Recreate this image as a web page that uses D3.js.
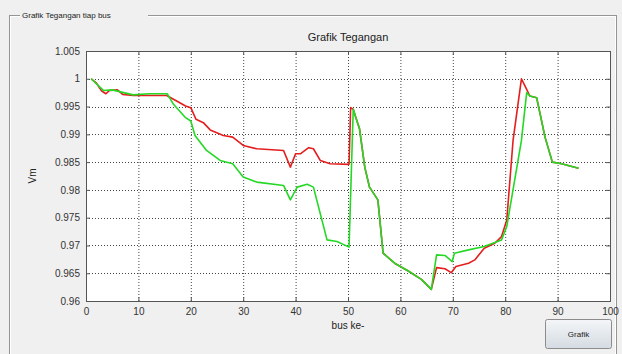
<!DOCTYPE html>
<html>
<head>
<style>
body { margin: 0; background: #f0f0f0; }
#chart { display: block; }
text { font-family: "Liberation Sans", Arial, sans-serif; fill: #222; }
</style>
</head>
<body>
<svg id="chart" width="622" height="354"></svg>
<script src="https://d3js.org/d3.v7.min.js"></script>
<script>
// values (bus number, Vm)
const redBus = [1, 2, 3, 3.8, 4.5, 6, 7, 9, 12, 15.4, 17.3, 19, 20, 21, 22.4, 23.7, 26.2, 28, 30, 32.6, 37.7, 39, 40, 40.9, 42.5, 43.4, 44.7, 46.6, 50.2, 50.5, 51, 51.6, 52.2, 53.2, 54.1, 55.7, 56.7, 58.9, 61.5, 64, 65.9, 66.9, 68.5, 69.7, 70.6, 73, 74.2, 76, 78, 79.3, 80.3, 81.5, 83.1, 84.1, 84.7, 86, 87.6, 89, 90.8, 92, 94];
const redVm = [1.0, 0.9992, 0.9978, 0.9973, 0.9979, 0.998, 0.9972, 0.997, 0.997, 0.997, 0.996, 0.9951, 0.9948, 0.9927, 0.9921, 0.9908, 0.9898, 0.9895, 0.988, 0.9874, 0.9871, 0.9841, 0.9865, 0.9865, 0.9876, 0.9874, 0.9853, 0.9847, 0.9846, 0.9948, 0.9945, 0.9927, 0.991, 0.9841, 0.9805, 0.9782, 0.9686, 0.9668, 0.9654, 0.9639, 0.9621, 0.966, 0.9658, 0.9651, 0.9662, 0.9668, 0.9674, 0.9695, 0.9704, 0.9716, 0.9746, 0.9889, 1.0, 0.9981, 0.9969, 0.9966, 0.9895, 0.985, 0.9847, 0.9844, 0.9839];

const greenBus = [1, 3.3, 5, 9, 12, 15.5, 16.7, 19, 20, 20.8, 23, 25.6, 28, 30, 32.6, 37.7, 39, 40.3, 42.2, 43.4, 46, 47.9, 50.2, 51, 51.6, 52.2, 53.2, 54.1, 55.7, 56.7, 58.9, 61.5, 64, 65.9, 66.9, 68.5, 69.9, 70.3, 73, 76, 79.3, 80.3, 81.8, 83.1, 84.1, 84.7, 86, 87.6, 89, 90.8, 92, 94];
const greenVm = [1.0, 0.9979, 0.998, 0.9971, 0.9973, 0.9973, 0.9954, 0.993, 0.9924, 0.9898, 0.9871, 0.9853, 0.9847, 0.9823, 0.9814, 0.9808, 0.9782, 0.9805, 0.981, 0.9805, 0.971, 0.9707, 0.9697, 0.9945, 0.9927, 0.991, 0.9841, 0.9805, 0.9782, 0.9686, 0.9668, 0.9654, 0.9639, 0.9621, 0.9683, 0.9682, 0.9671, 0.9686, 0.9692, 0.9698, 0.971, 0.9734, 0.9817, 0.9889, 0.9975, 0.9969, 0.9966, 0.9895, 0.985, 0.9847, 0.9844, 0.9839];

const xTicks = [0, 10, 20, 30, 40, 50, 60, 70, 80, 90, 100];
const yTicks = [0.96, 0.965, 0.97, 0.975, 0.98, 0.985, 0.99, 0.995, 1, 1.005];

const svg = d3.select("#chart");
const pLeft = 86, pRight = 610, pTop = 51, pBottom = 301;

// group box (etched line, label cut into top edge)
svg.append("rect").attr("x", 9.5).attr("y", 15.5).attr("width", 607).attr("height", 345)
    .style("fill", "none").style("stroke", "#959595");
svg.append("rect").attr("x", 10.5).attr("y", 16.5).attr("width", 605).attr("height", 343)
    .style("fill", "none").style("stroke", "#ffffff");
svg.append("rect").attr("x", 20).attr("y", 10).attr("width", 128).attr("height", 12).style("fill", "#f0f0f0");
svg.append("text").attr("x", 22).attr("y", 18).attr("font-size", "8px").text("Grafik Tegangan tiap bus");

const x = d3.scaleLinear().domain([0, 100]).range([pLeft, pRight]);
const y = d3.scaleLinear().domain([0.96, 1.005]).range([pBottom, pTop]);

svg.append("rect").attr("x", pLeft).attr("y", pTop).attr("width", pRight - pLeft).attr("height", pBottom - pTop)
    .style("fill", "#fff");

// dotted grid
svg.selectAll("line.gx").data(xTicks.slice(1, -1)).enter().append("line")
    .attr("x1", d => x(d) + 0.5).attr("x2", d => x(d) + 0.5).attr("y1", pTop).attr("y2", pBottom)
    .style("stroke", "#444").style("stroke-dasharray", "1,2");
svg.selectAll("line.gy").data(yTicks.slice(1, -1)).enter().append("line")
    .attr("x1", pLeft).attr("x2", pRight).attr("y1", d => Math.round(y(d)) + 0.5).attr("y2", d => Math.round(y(d)) + 0.5)
    .style("stroke", "#444").style("stroke-dasharray", "1,2");

// axes, inward ticks on all four sides
const fmt = d => d3.format("")(+d.toFixed(3));
const axB = svg.append("g").attr("transform", `translate(0,${pBottom})`)
    .call(d3.axisBottom(x).tickValues(xTicks).tickSize(-4).tickPadding(7).tickFormat(d3.format("d")));
const axT = svg.append("g").attr("transform", `translate(0,${pTop})`)
    .call(d3.axisTop(x).tickValues(xTicks).tickSize(-4).tickFormat(""));
const axL = svg.append("g").attr("transform", `translate(${pLeft},0)`)
    .call(d3.axisLeft(y).tickValues(yTicks).tickSize(-4).tickPadding(6).tickFormat(fmt));
const axR = svg.append("g").attr("transform", `translate(${pRight},0)`)
    .call(d3.axisRight(y).tickValues(yTicks).tickSize(-4).tickFormat(""));
[axB, axT, axL, axR].forEach(a => {
    a.select(".domain").style("stroke", "#555");
    a.selectAll(".tick line").style("stroke", "#555");
    a.selectAll("text").attr("font-size", "10px").style("font-family", "Liberation Sans, Arial, sans-serif").style("fill", "#333");
});

const line = d3.line().x(d => x(d[0])).y(d => y(d[1]));
svg.append("path").datum(d3.zip(redBus, redVm)).attr("d", line)
    .style("fill", "none").style("stroke", "#e41e1e").style("stroke-width", 1.6).style("stroke-linejoin", "round");
svg.append("path").datum(d3.zip(greenBus, greenVm)).attr("d", line)
    .style("fill", "none").style("stroke", "#25d825").style("stroke-width", 1.6).style("stroke-linejoin", "round");

// titles
svg.append("text").attr("x", (pLeft + pRight) / 2).attr("y", 41).attr("text-anchor", "middle")
    .attr("font-size", "11px").text("Grafik Tegangan");
svg.append("text").attr("x", (pLeft + pRight) / 2).attr("y", 329).attr("text-anchor", "middle")
    .attr("font-size", "10px").text("bus ke-");
svg.append("text").attr("transform", `translate(36,${(pTop + pBottom) / 2}) rotate(-90)`).attr("text-anchor", "middle")
    .attr("font-size", "10px").text("Vm");

// button
const grad = svg.append("defs").append("linearGradient").attr("id", "bg").attr("x1", 0).attr("y1", 0).attr("x2", 0).attr("y2", 1);
grad.append("stop").attr("offset", 0).attr("stop-color", "#f4f6f8");
grad.append("stop").attr("offset", 1).attr("stop-color", "#d4dbe2");
const btn = svg.append("g");
btn.append("rect").attr("x", 545.5).attr("y", 319.5).attr("width", 66).attr("height", 29).attr("rx", 2)
    .style("fill", "url(#bg)").style("stroke", "#8c8c8c");
btn.append("text").attr("x", 578.5).attr("y", 337).attr("text-anchor", "middle").attr("font-size", "8px").text("Grafik");
</script>
</body>
</html>
